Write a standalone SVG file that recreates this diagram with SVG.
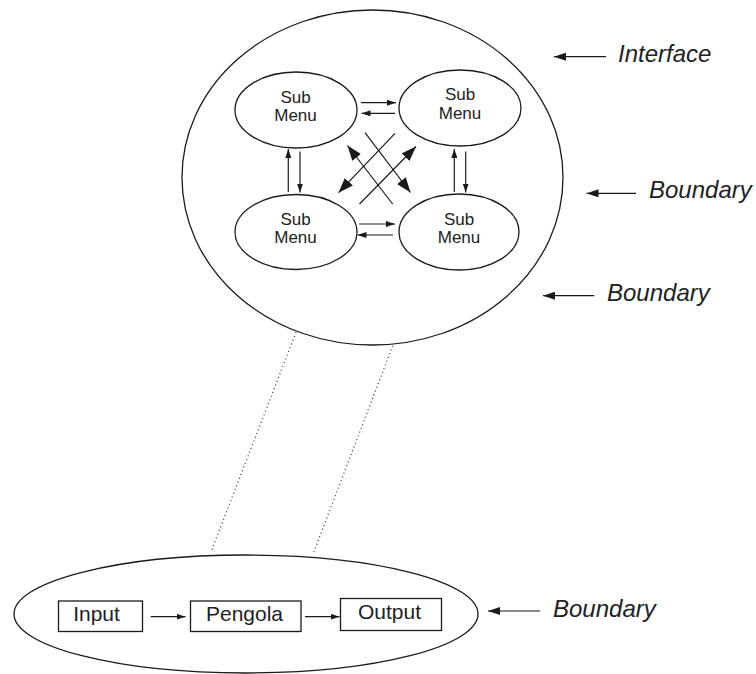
<svg xmlns="http://www.w3.org/2000/svg" width="756" height="674" viewBox="0 0 756 674">
<defs>
<marker id="sm" markerUnits="userSpaceOnUse" markerWidth="9" markerHeight="6" refX="9" refY="3" orient="auto"><path d="M0,0 L9,3 L0,6 z" fill="#1a1a1a"/></marker>
<marker id="bg" markerUnits="userSpaceOnUse" markerWidth="15" markerHeight="11" refX="15" refY="5.5" orient="auto"><path d="M0,0 L15,5.5 L0,11 z" fill="#1a1a1a"/></marker>
<marker id="lb" markerUnits="userSpaceOnUse" markerWidth="12" markerHeight="8" refX="12" refY="4" orient="auto"><path d="M0,0 L12,4 L0,8 z" fill="#1a1a1a"/></marker>
<style>
.sh{fill:none;stroke:#1a1a1a;stroke-width:1.3}
.ln{fill:none;stroke:#1a1a1a;stroke-width:1.2}
.dot{fill:none;stroke:#333;stroke-width:1.2;stroke-dasharray:1 3}
.sm{font-family:"Liberation Sans",Arial,sans-serif;font-size:17px;fill:#222;text-anchor:middle}
.lbl{font-family:"Liberation Sans",Arial,sans-serif;font-size:24px;font-style:italic;fill:#222}
.bx{font-family:"Liberation Sans",Arial,sans-serif;font-size:21px;fill:#222;text-anchor:middle}
</style>
</defs>
<g id="interface">
<ellipse class="sh" cx="372.5" cy="177.5" rx="190.5" ry="167.5"/>
</g>
<g id="sub-tl"><ellipse class="sh" cx="296" cy="110" rx="61" ry="38"/><text class="sm" x="295.5" y="102.5">Sub</text><text class="sm" x="295.5" y="121">Menu</text></g>
<g id="sub-tr"><ellipse class="sh" cx="460" cy="108" rx="61" ry="38"/><text class="sm" x="460" y="100">Sub</text><text class="sm" x="460" y="119">Menu</text></g>
<g id="sub-bl"><ellipse class="sh" cx="296" cy="232" rx="61" ry="37.5"/><text class="sm" x="295.5" y="225">Sub</text><text class="sm" x="295.5" y="243">Menu</text></g>
<g id="sub-br"><ellipse class="sh" cx="459" cy="232" rx="60" ry="38"/><text class="sm" x="459" y="225">Sub</text><text class="sm" x="459" y="243">Menu</text></g>
<g id="process">
<ellipse class="sh" cx="246" cy="614" rx="232" ry="59"/>
</g>
<g id="input"><rect class="sh" x="58.5" y="601" width="84" height="30.5"/><text class="bx" x="96.5" y="621">Input</text></g>
<g id="pengola"><rect class="sh" x="190.5" y="601" width="110.5" height="30.5"/><text class="bx" x="244.5" y="621">Pengola</text></g>
<g id="output"><rect class="sh" x="340.5" y="598.5" width="101" height="32"/><text class="bx" x="389.5" y="618.5">Output</text></g>
<g id="labels">
<text class="lbl" x="618" y="62">Interface</text>
<text class="lbl" x="649" y="198">Boundary</text>
<text class="lbl" x="607" y="301">Boundary</text>
<text class="lbl" x="553" y="617">Boundary</text>
</g>
<g id="connectors">
<line class="ln" x1="361" y1="102.7" x2="396" y2="102.7" marker-end="url(#sm)"/>
<line class="ln" x1="395" y1="113.3" x2="361.5" y2="113.3" marker-end="url(#sm)"/>
<line class="ln" x1="359" y1="224" x2="395" y2="224" marker-end="url(#sm)"/>
<line class="ln" x1="393" y1="235" x2="357.5" y2="235" marker-end="url(#sm)"/>
<line class="ln" x1="288.3" y1="192" x2="288.3" y2="149" marker-end="url(#sm)"/>
<line class="ln" x1="300" y1="151.5" x2="300" y2="192.5" marker-end="url(#sm)"/>
<line class="ln" x1="454.3" y1="192" x2="454.3" y2="149" marker-end="url(#sm)"/>
<line class="ln" x1="465.7" y1="151.5" x2="465.7" y2="192.5" marker-end="url(#sm)"/>
<line class="ln" x1="365" y1="132.7" x2="410.5" y2="192.5" marker-end="url(#bg)"/>
<line class="ln" x1="392.7" y1="204" x2="347.5" y2="145.5" marker-end="url(#bg)"/>
<line class="ln" x1="395" y1="133.3" x2="338.5" y2="192.7" marker-end="url(#bg)"/>
<line class="ln" x1="359.5" y1="204" x2="416" y2="146.5" marker-end="url(#bg)"/>
<line class="ln" x1="150.7" y1="616.7" x2="185.5" y2="616.7" marker-end="url(#sm)"/>
<line class="ln" x1="305" y1="616.7" x2="339.5" y2="616.7" marker-end="url(#sm)"/>
<line class="ln" x1="606" y1="56.7" x2="554" y2="56.7" marker-end="url(#lb)"/>
<line class="ln" x1="636" y1="193.3" x2="586.5" y2="193.3" marker-end="url(#lb)"/>
<line class="ln" x1="594.3" y1="295.7" x2="543" y2="295.7" marker-end="url(#lb)"/>
<line class="ln" x1="540" y1="611" x2="488" y2="611" marker-end="url(#lb)"/>
<line class="dot" x1="296" y1="332.3" x2="211.7" y2="550"/>
<line class="dot" x1="392.7" y1="345.7" x2="312.7" y2="555"/>
</g>
</svg>
